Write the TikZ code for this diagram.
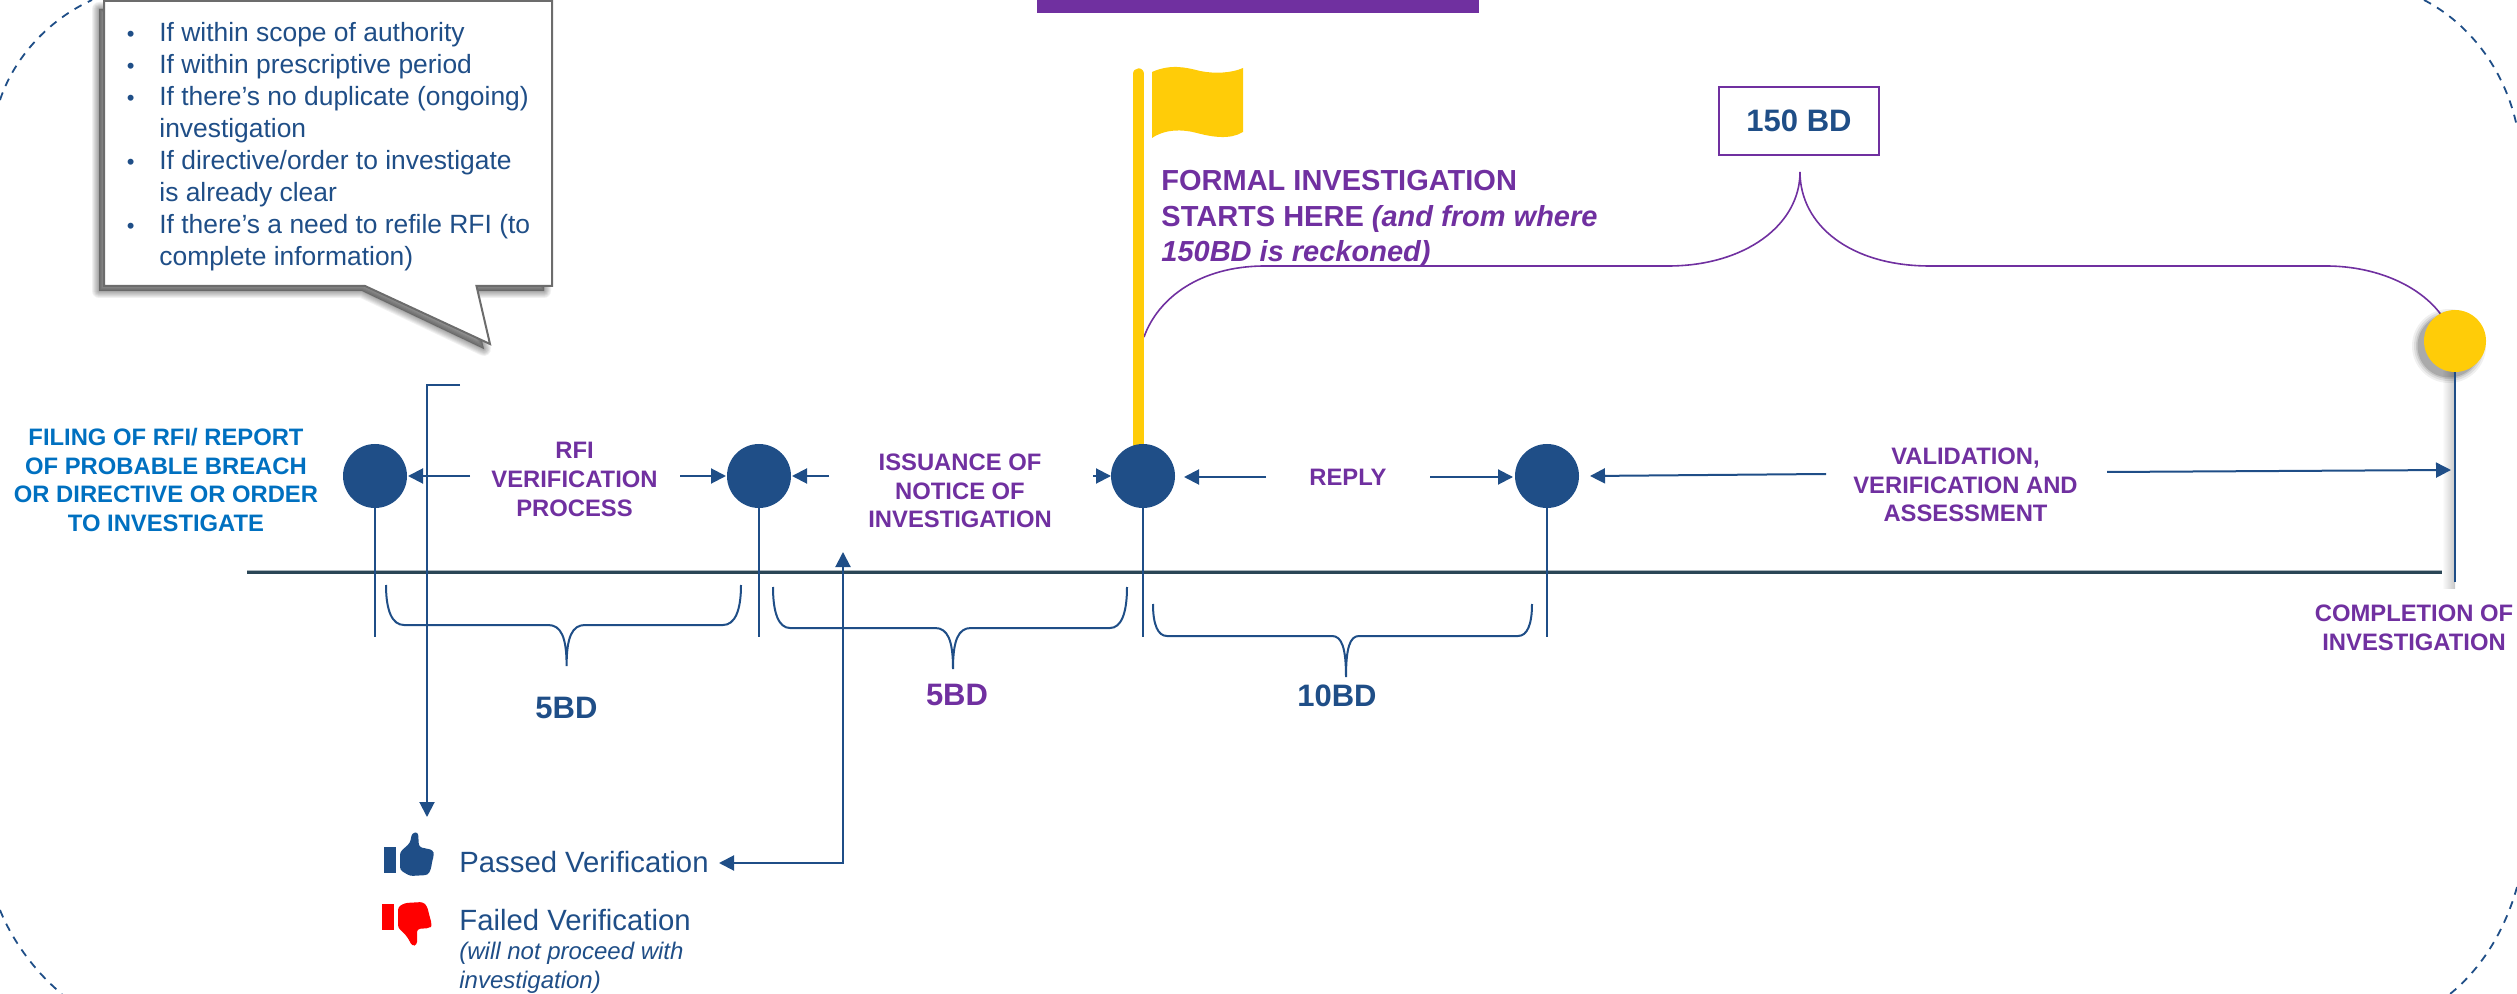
\documentclass[tikz,border=0pt]{standalone}
\usepackage{fontspec}
\setmainfont{Liberation Sans}
\usetikzlibrary{arrows.meta}
\definecolor{navy}{HTML}{1F4E87}
\definecolor{purp}{HTML}{7030A0}
\definecolor{sky}{HTML}{0070C0}
\definecolor{gold}{HTML}{FFCC08}
\definecolor{axisc}{HTML}{2A4656}
\newcommand{\bracedn}[9]{%
  \draw[bracel] (#1,#8) .. controls (#1,{#8+0.65*(#9-#8)}) and ({#1+0.35*(#2-#1)},#9) .. (#2,#9)
    -- (#3,#9) .. controls ({#3+0.7*(#4-#3)},#9) and (#4,{#9+12}) .. (#4,{#9+41})
    .. controls (#4,{#9+12}) and ({#5-0.7*(#5-#4)},#9) .. (#5,#9)
    -- (#6,#9) .. controls ({#6+0.65*(#7-#6)},#9) and (#7,{#9-0.35*(#9-#8)}) .. (#7,#8);}
\newcommand{\bul}{\makebox[17.5pt][l]{\hspace*{1.2pt}\fontsize{11}{16}\selectfont •}}
\tikzset{
  x=0.5pt,y=-0.5pt,
  flow/.style={navy,line width=1pt,-{Triangle[length=7.5pt,width=7.5pt]}},
  stem/.style={navy,line width=1pt},
  bracel/.style={navy,line width=1pt},
  dot/.style={circle,fill=navy,minimum size=32pt,inner sep=0pt},
  lab/.style={text=purp,font=\bfseries\fontsize{11.9}{14.4}\selectfont,align=center,inner sep=0pt},
  big/.style={font=\bfseries\fontsize{15.5}{18}\selectfont,inner sep=0pt},
  plain/.style={text=navy,inner sep=0pt,align=left},
  corner/.style={navy,line width=0.9pt,dash pattern=on 4pt off 3.5pt},
}
\begin{document}
\begin{tikzpicture}
\useasboundingbox (0,0) rectangle (2517,994);
% dashed corners
\draw[corner] (0,100) .. controls (14,58) and (48,20) .. (92,0);
\draw[corner] (2424,0) .. controls (2470,24) and (2505,70) .. (2517,127);
\draw[corner] (0,910) .. controls (12,940) and (35,972) .. (62,994);
\draw[corner] (2517,887) .. controls (2505,930) and (2482,968) .. (2450,994);
% top bar
\fill[purp] (1037,0) rectangle (1479,13);
% callout shadow and body
\foreach \w in {14,12,10,8,6,4,2,1}{
  \filldraw[black,fill opacity=.055,draw opacity=.055,line width=\w*0.5pt,line join=round]
    (99,9) -- (544,9) -- (544,291) -- (470,291) -- (484,349) -- (362,291) -- (99,291) -- cycle;}
\draw[fill=white,draw=gray!85!black,line width=1pt] (104,1) -- (552,1) -- (552,286) -- (476.5,286) -- (490,344) -- (365,286) -- (104,286) -- cycle;
\node[plain,anchor=north west,font=\fontsize{13.2}{16}\selectfont] (checks) at (124,22) {%
\bul If within scope of authority\\
\bul If within prescriptive period\\
\bul If there’s no duplicate (ongoing)\\
\hspace*{17.5pt}investigation\\
\bul If directive/order to investigate\\
\hspace*{17.5pt}is already clear\\
\bul If there's a need to refile RFI (to\\
\hspace*{17.5pt}complete information)};
% big brace
\draw[purp,line width=0.8pt] (1144,337) .. controls (1158,298) and (1200,266) .. (1265,266) -- (1668,266)
  .. controls (1745,266) and (1800,225) .. (1800,172)
  .. controls (1800,225) and (1850,266) .. (1930,266) -- (2326,266)
  .. controls (2375,266) and (2420,285) .. (2442,316);
% axis
\draw[axisc!40,line width=2.4pt] (247,572) -- (2455,572);
\draw[axisc,line width=1.5pt] (247,572) -- (2455,572);
% completion shadow
\shade[left color=white,right color=black!22] (2442,372) rectangle (2455,588);
% flag
\draw[gold,line width=5.7pt,line cap=round] (1138.5,74) -- (1138.5,450);
\fill[gold] (1152,72) .. controls (1170,64) and (1185,67) .. (1200,71) .. controls (1215,74) and (1232,73) .. (1243,68)
  -- (1243,132) .. controls (1230,140) and (1212,137) .. (1197,133) .. controls (1182,129) and (1165,129) .. (1152,138) -- cycle;
% dots
\node[dot] (d1) at (375,476) {};
\node[dot] (d2) at (759,476) {};
\node[dot] (d3) at (1143,476) {};
\node[dot] (d4) at (1547,476) {};
\foreach \w/\o in {12/.06,8/.08,4/.10,1/.14}{
  \fill[black,opacity=\o] (2449,346) circle ({31+\w*0.5});}
\node[circle,fill=gold,minimum size=31pt,inner sep=0pt] (d5) at (2455,341) {};
% stems
\coordinate (s1) at (375,637);
\coordinate (s2) at (759,637);
\coordinate (s3) at (1143,637);
\coordinate (s4) at (1547,637);
\coordinate (s5) at (2455,582);
\draw[stem] (d1) -- (s1);
\draw[stem] (d2) -- (s2);
\draw[stem] (d3) -- (s3);
\draw[stem] (d4) -- (s4);
\draw[stem] (d5) -- (s5);
% labels
\node[lab,text=sky] (filing) at (166,480) {FILING OF RFI/ REPORT\\OF PROBABLE BREACH\\OR DIRECTIVE OR ORDER\\TO INVESTIGATE};
\node[lab] (rfi) at (574.5,479.5) {RFI\\VERIFICATION\\PROCESS};
\node[lab] (issue) at (960,491) {ISSUANCE OF\\NOTICE OF\\INVESTIGATION};
\node[lab] (reply) at (1348,477) {REPLY};
\node[lab] (valid) at (1965.5,485) {VALIDATION,\\VERIFICATION AND\\ASSESSMENT};
\node[lab] (compl) at (2414,628) {COMPLETION OF\\INVESTIGATION};
\node[text=purp,inner sep=0pt,align=left,anchor=north west,font=\bfseries\fontsize{14.5}{17.75}\selectfont] (formal) at (1161,170) {FORMAL INVESTIGATION\\STARTS HERE \textit{(and from where}\\\textit{150BD is reckoned)}};
% flow arrows
\coordinate (a1) at (470,476);\coordinate (t1) at (408,476);
\coordinate (a2) at (680,476);\coordinate (t2) at (726,476);
\coordinate (a3) at (829,476);\coordinate (t3) at (792,476);
\coordinate (a4) at (1093,476);\coordinate (t4) at (1111,476);
\coordinate (a5) at (1266,477);\coordinate (t5) at (1184,477);
\coordinate (a6) at (1430,477);\coordinate (t6) at (1513,477);
\coordinate (a7) at (1826,474);\coordinate (t7) at (1590,476);
\coordinate (a8) at (2107,472);\coordinate (t8) at (2451,470);
\draw[flow] (a1) -- (t1);
\draw[flow] (a2) -- (t2);
\draw[flow] (a3) -- (t3);
\draw[flow] (a4) -- (t4);
\draw[flow] (a5) -- (t5);
\draw[flow] (a6) -- (t6);
\draw[flow] (a7) -- (t7);
\draw[flow] (a8) -- (t8);
% braces
\bracedn{386}{404}{548}{566.6}{585}{723}{741}{585}{625}
\bracedn{773}{790}{935}{953}{971}{1110}{1127}{587}{628}
\bracedn{1153}{1167}{1332}{1346}{1359}{1518}{1532}{604}{636}
\node[big,text=navy] (bd1) at (566.5,708) {5BD};
\node[big,text=purp] (bd2) at (957,695) {5BD};
\node[big,text=navy] (bd3) at (1337,696) {10BD};
\node[draw=purp,line width=1pt,minimum width=80pt,minimum height=34pt,inner sep=0pt,big,text=navy] (bd150) at (1799,121) {150 BD};
% legend
\node[plain,anchor=west,font=\fontsize{14.65}{16}\selectfont] (pass) at (459,862) {Passed Verification};
\node[plain,anchor=west,font=\fontsize{14.65}{16}\selectfont] (fail) at (459,920) {Failed Verification};
\node[plain,anchor=north west,font=\itshape\fontsize{12}{14.5}\selectfont] (note) at (459,942) {(will not proceed with\\investigation)};
% thumbs
\fill[navy] (384,847) rectangle (396,873);
\fill[navy,rounded corners=1.5pt] (400,852) -- (410,843) -- (412,833) -- (418,832) -- (419,847) -- (433,850) -- (434,855) -- (432,862) -- (431,869) -- (428,875) -- (410,876) -- (400,870) -- cycle;
\fill[red] (382,904) rectangle (394,930);
\fill[red,rounded corners=1.5pt] (398,907) -- (405,903) -- (423,902) -- (427,906) -- (429,914) -- (432,925) -- (430,928) -- (417,929) -- (417,945) -- (412,946) -- (408,938) -- (403,932) -- (398,928) -- cycle;
% verification connectors
\coordinate (v0) at (460,385);
\coordinate (v1) at (427,385);
\coordinate (v2) at (427,817);
\draw[flow] (v0) -- (v1) -- (v2);
\coordinate (u0) at (843,552);
\coordinate (u1) at (843,863);
\coordinate (u2) at (719,863);
\draw[flow,{Triangle[length=7.5pt,width=7.5pt]}-{Triangle[length=7.5pt,width=7.5pt]}] (u0) -- (u1) -- (u2);
\end{tikzpicture}
\end{document}
